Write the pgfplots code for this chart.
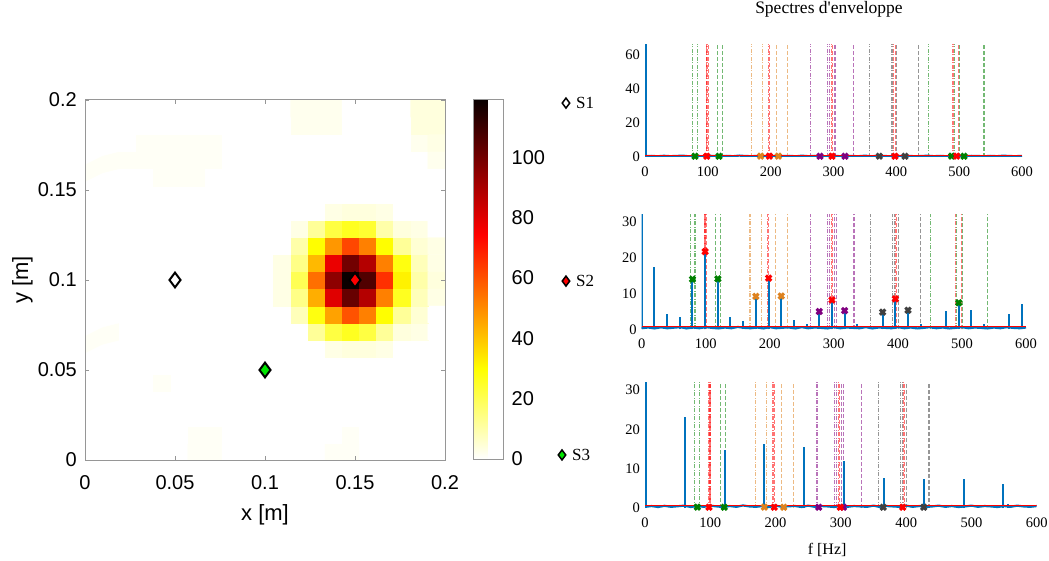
\documentclass[border=0pt]{standalone}
\usepackage{pgfplots}
\pgfplotsset{compat=1.18}
\usepackage{pgfplotstable}
\usepackage{fontspec}
\setmainfont{Liberation Sans}
\newfontfamily\timesf{Liberation Serif}

\definecolor{mblue}{RGB}{0,114,189}
\definecolor{mgreen}{RGB}{0,128,0}
\definecolor{morange}{RGB}{222,130,30}
\definecolor{mpurple}{RGB}{128,0,128}
\definecolor{mgray}{RGB}{64,64,64}
\definecolor{axgray}{RGB}{150,150,150}
\definecolor{sgreen}{RGB}{0,230,0}

% 21x21 map, rows from bottom (y=0) to top, 21 values each (x from 0 to 0.2)
\pgfplotstableread[row sep=\\]{
z\\
0\\0\\0\\0\\0\\0\\1\\1\\0\\0\\0\\0\\0\\0\\1\\1\\0\\0\\0\\0\\0\\
0\\0\\0\\0\\0\\0\\1\\1\\0\\0\\0\\0\\0\\0\\0\\1\\0\\0\\0\\0\\0\\
0\\0\\0\\0\\0\\0\\0\\0\\0\\0\\0\\0\\0\\0\\0\\0\\0\\0\\0\\0\\0\\
0\\0\\0\\0\\0\\0\\0\\0\\0\\0\\0\\0\\0\\0\\0\\0\\0\\0\\0\\0\\0\\
0\\0\\0\\0\\1\\0\\0\\0\\0\\0\\0\\0\\0\\0\\0\\0\\0\\0\\0\\0\\0\\
0\\0\\0\\0\\0\\0\\0\\0\\0\\0\\0\\0\\0\\0\\0\\0\\0\\0\\0\\0\\0\\
0\\0\\0\\0\\0\\0\\0\\0\\0\\0\\0\\0\\0\\0\\3\\4\\4\\3\\0\\0\\0\\
1\\1\\0\\0\\0\\0\\0\\0\\0\\0\\0\\0\\0\\12\\22\\26\\22\\12\\4\\3\\0\\
0\\0\\0\\0\\0\\0\\0\\0\\0\\0\\0\\0\\8\\28\\46\\60\\52\\30\\12\\5\\0\\
0\\0\\0\\0\\0\\0\\0\\0\\0\\0\\0\\3\\14\\44\\80\\102\\88\\52\\26\\8\\3\\
0\\0\\0\\0\\0\\0\\0\\0\\0\\0\\0\\3\\20\\55\\95\\119\\106\\66\\32\\10\\4\\
0\\0\\0\\0\\0\\0\\0\\0\\0\\0\\0\\3\\14\\42\\78\\100\\88\\52\\28\\8\\3\\
0\\0\\0\\0\\0\\0\\0\\0\\0\\0\\0\\0\\10\\30\\48\\62\\52\\30\\12\\5\\3\\
0\\0\\0\\0\\0\\0\\0\\0\\0\\0\\0\\0\\3\\12\\22\\26\\24\\10\\4\\3\\0\\
0\\0\\0\\0\\0\\0\\0\\0\\0\\0\\0\\0\\0\\0\\3\\4\\4\\3\\0\\0\\0\\
0\\0\\0\\0\\0\\0\\0\\0\\0\\0\\0\\0\\0\\0\\0\\0\\0\\0\\0\\0\\0\\
0\\0\\0\\0\\1\\1\\1\\0\\0\\0\\0\\0\\0\\0\\0\\0\\0\\0\\0\\0\\0\\
1\\1\\1\\1\\1\\1\\1\\1\\0\\0\\0\\0\\0\\0\\0\\0\\0\\0\\0\\0\\2\\
0\\0\\0\\1\\1\\1\\1\\1\\0\\0\\0\\0\\0\\0\\0\\0\\0\\0\\0\\2\\3\\
0\\0\\0\\0\\0\\0\\0\\0\\0\\0\\0\\0\\2\\2\\2\\0\\0\\0\\0\\4\\4\\
0\\0\\0\\0\\0\\0\\0\\0\\0\\0\\0\\0\\2\\2\\2\\0\\0\\0\\0\\4\\4\\
}\heat

\pgfplotstableread[row sep=\\]{
f a\\
0 0.3\\10 0.5\\20 0.25\\30 0.55\\40 0.3\\50 0.45\\60 0.6\\70 0.25\\80 0.5\\90 0.3\\
100 0.6\\110 0.4\\120 0.25\\130 0.5\\140 0.3\\150 0.65\\160 0.4\\170 0.3\\180 0.5\\190 0.25\\
200 0.6\\210 0.3\\220 0.45\\230 0.5\\240 0.25\\250 0.6\\260 0.3\\270 0.5\\280 0.4\\290 0.25\\
300 0.6\\310 0.3\\320 0.5\\330 0.4\\340 0.3\\350 0.6\\360 0.25\\370 0.5\\380 0.4\\390 0.3\\
400 0.6\\410 0.3\\420 0.5\\430 0.25\\440 0.4\\450 0.6\\460 0.3\\470 0.5\\480 0.25\\490 0.4\\
500 0.6\\510 0.3\\520 0.5\\530 0.4\\540 0.25\\550 0.5\\560 0.3\\570 0.6\\580 0.4\\590 0.3\\
600 0.5\\
}\noise

\pgfplotsset{
  vl/.style={ycomb, mark=none, line width=1.1pt, opacity=0.55, forget plot},
  dd/.style={dash pattern=on 4pt off 1.5pt on 1pt off 1.5pt},
  ds/.style={dash pattern=on 4pt off 2pt},
  xm/.style={only marks, mark=x, mark size=3.8pt, mark options={line width=3pt}},
  rightax/.style={anchor=south west, scale only axis, xmin=0, xmax=600, ymin=0,
    xtick={0,100,200,300,400,500,600},
    axis line style={draw=none}, tick style={draw=none}, major tick length=0pt,
    ticklabel style={font=\timesf\fontsize{14.5}{14.5}\selectfont},
    xticklabel style={anchor=base, inner sep=0pt, yshift=-19.5pt},
    yticklabel style={anchor=east, inner sep=0pt, xshift=-5pt},
    clip mode=individual,
    /pgf/number format/assume math mode=true},
}

\newcommand{\vlinesMain}{%
  \addplot[vl, mgreen, dd] coordinates {(75.5,200) (83.2,200)};
  \addplot[vl, red, dd] coordinates {(97.6,200) (99.6,200)};
  \addplot[vl, red, ds] coordinates {(98.4,200) (100.4,200)};
  \addplot[vl, mgreen, ds] coordinates {(115,200) (122.8,200)};
  \addplot[vl, morange, dd] coordinates {(169,200) (186.5,200)};
  \addplot[vl, red, dd] coordinates {(196,200)};
  \addplot[vl, red, ds] coordinates {(198,200)};
  \addplot[vl, morange, ds] coordinates {(209.3,200) (227,200)};
  \addplot[vl, mpurple, dd] coordinates {(263.5,200) (290.7,200) (293.4,200)};
  \addplot[vl, red, dd] coordinates {(296.2,200)};
  \addplot[vl, red, ds] coordinates {(298.5,200)};
  \addplot[vl, mpurple, ds] coordinates {(301,200) (303.5,200) (331.5,200)};
  \addplot[vl, mgray, dd] coordinates {(357.5,200) (391.9,200) (394,200)};
  \addplot[vl, red, dd] coordinates {(396,200)};
  \addplot[vl, red, ds] coordinates {(398.1,200)};
  \addplot[vl, mgray, ds] coordinates {(400.7,200) (435,200)};
}
\newcommand{\vlinesFive}{%
  \addplot[vl, mgreen, dd] coordinates {(451.5,200) (492,200)};
  \addplot[vl, red, dd] coordinates {(490.2,200)};
  \addplot[vl, red, ds] coordinates {(498.6,200)};
  \addplot[vl, mgreen, ds] coordinates {(500.6,200) (539.5,200)};
}

\begin{document}
\begin{tikzpicture}
\path[use as bounding box] (0pt,0pt) rectangle (1049pt,560pt);

% ---------------- heat map ----------------
\begin{axis}[
  at={(85pt,100pt)}, anchor=south west, scale only axis,
  width=360pt, height=360pt,
  xmin=0, xmax=0.2, ymin=0, ymax=0.2,
  xtick={0,0.05,0.1,0.15,0.2}, xticklabels={0,0.05,0.1,0.15,0.2},
  ytick={0,0.05,0.1,0.15,0.2}, yticklabels={0,0.05,0.1,0.15,0.2},
  tick align=inside, major tick length=4pt,
  tick style={axgray, line width=0.8pt},
  axis line style={axgray, line width=1pt},
  axis on top, clip=false,
  point meta min=0, point meta max=119,
  colormap={hotr}{rgb255(0cm)=(255,255,255); rgb255(2cm)=(255,255,0); rgb255(5cm)=(255,0,0); rgb255(8cm)=(10,0,0)},
  ticklabel style={font=\fontsize{20}{20}\selectfont},
  xticklabel style={anchor=base, inner sep=0pt, yshift=-29.3pt},
  yticklabel style={anchor=east, inner sep=0pt, xshift=-8pt},
  xlabel={x [m]}, ylabel={y [m]},
  label style={font=\fontsize{22}{22}\selectfont},
  xlabel style={at={(axis description cs:0.5,-0.153)}, anchor=center},
  ylabel style={at={(axis description cs:-0.174,0.5)}, anchor=center},
  /pgf/number format/assume math mode=true,
  colorbar,
  colorbar style={
    at={(parent axis.north east)}, anchor=north west, xshift=20pt,
    scale only axis, width=30pt, height=359pt,
    ytick={0,20,40,60,80,100},
    yticklabel style={font=\fontsize{20}{20}\selectfont, anchor=west, inner sep=0pt, xshift=8pt},
    axis line style={axgray, line width=1pt},
    tick style={draw=none},
    /pgf/number format/assume math mode=true,
  },
]
\addplot[matrix plot*, mesh/cols=21, mesh/rows=21, point meta=explicit]
  table[x index=0, y index=0, x expr={(mod(\coordindex,21)+0.5)*0.2/21}, y expr={(floor(\coordindex/21)+0.5)*0.2/21}, meta index=0] {\heat};

\addplot[only marks, mark=diamond*, mark size=7.4pt, mark options={line width=2pt, draw=black, fill=white}] coordinates {(0.05,0.1)};
\addplot[only marks, mark=diamond*, mark size=7.4pt, mark options={line width=2pt, draw=black, fill=red}] coordinates {(0.15,0.1)};
\addplot[only marks, mark=diamond*, mark size=7.4pt, mark options={line width=2pt, draw=black, fill=sgreen}] coordinates {(0.1,0.05)};

\addplot[only marks, mark=diamond*, mark size=5pt, mark options={line width=1.5pt, draw=black, fill=white}] coordinates {(0.2672,0.1983)};
\addplot[only marks, mark=diamond*, mark size=5pt, mark options={line width=1.5pt, draw=black, fill=red}] coordinates {(0.2672,0.0994)};
\addplot[only marks, mark=diamond*, mark size=5pt, mark options={line width=1.5pt, draw=black, fill=sgreen}] coordinates {(0.2650,0.0028)};
\node[anchor=west, inner sep=0pt, font=\timesf\fontsize{17}{17}\selectfont] at (axis cs:0.2728,0.1983) {S1};
\node[anchor=west, inner sep=0pt, font=\timesf\fontsize{17}{17}\selectfont] at (axis cs:0.2728,0.0994) {S2};
\node[anchor=west, inner sep=0pt, font=\timesf\fontsize{17}{17}\selectfont] at (axis cs:0.2705,0.0028) {S3};
\end{axis}

% ---------------- spectrum 1 ----------------
\begin{axis}[rightax, at={(645pt,403.3pt)}, width=377pt, height=111.9pt,
  ymax=66, ytick={0,20,40,60},
  title={Spectres d'enveloppe},
  title style={font=\timesf\fontsize{17.5}{17.5}\selectfont, at={(axis description cs:0.5,1)}, anchor=center, yshift=30pt, xshift=-4.5pt},
]
\vlinesMain
\vlinesFive
\addplot[mblue, line width=2.2pt, mark=none] table[x=f, y=a] {\noise};
\addplot[ycomb, mblue, line width=2.5pt, mark=none] coordinates {(0.8,200) (10,0.5)};
\addplot[red, line width=1.2pt, mark=none] coordinates {(0,0.8) (600,0.8)};
\addplot[xm, mgreen] coordinates {(79.6,0.3) (117.8,0.3) (488,0.3) (507.7,0.3)};
\addplot[xm, morange] coordinates {(184,0.3) (212.2,0.3)};
\addplot[xm, mpurple] coordinates {(278.5,0.3) (318.3,0.3)};
\addplot[xm, mgray] coordinates {(372.9,0.3) (413.8,0.3)};
\addplot[xm, red] coordinates {(98.2,0.3) (197.9,0.3) (297.6,0.3) (397.9,0.3) (496,0.3)};
\end{axis}

% ---------------- spectrum 2 ----------------
\begin{axis}[rightax, at={(641.7pt,230.7pt)}, width=384.3pt, height=114.5pt,
  ymax=32, ytick={0,10,20,30},
]
\vlinesMain
\vlinesFive
\addplot[mblue, line width=2.2pt, mark=none] table[x=f, y=a] {\noise};
\addplot[ycomb, mblue, line width=2pt, mark=none] coordinates {
  (0.8,200) (19.8,17.5) (39.6,4.2) (59.4,3.4) (79.2,14.0) (99,21.7) (118.8,14.1)
  (138.6,3.5) (158.4,2.4) (178.2,9.2) (198,14.3) (217.8,9.3) (237.6,2.5)
  (257.4,1.4) (277.2,5.0) (297,8.2) (316.8,5.2) (336.6,1.5) (356.4,0.9)
  (376.2,4.8) (396,8.5) (415.8,5.3) (435.6,1.5) (455.4,0.9) (475.2,5.0)
  (495,7.4) (514.8,5.5) (534.6,1.4) (554.4,0.7) (574.2,4.4) (594,7.0)};
\addplot[red, line width=1.2pt, mark=none] coordinates {(0,0.7) (600,0.7)};
\addplot[xm, mgreen] coordinates {(79.2,14.0) (118.8,14.1) (495,7.4)};
\addplot[xm, morange] coordinates {(178.2,9.2) (217.8,9.3)};
\addplot[xm, mpurple] coordinates {(277.2,5.0) (316.8,5.2)};
\addplot[xm, mgray] coordinates {(376.2,4.8) (415.8,5.3)};
\addplot[xm, red] coordinates {(99,21.7) (198,14.3) (297,8.2) (396,8.5)};
\end{axis}

% ---------------- spectrum 3 ----------------
\begin{axis}[rightax, at={(645pt,52pt)}, width=391.7pt, height=125.9pt,
  ymax=32, ytick={0,10,20,30},
  xlabel={f [Hz]},
  xlabel style={font=\timesf\fontsize{16}{16}\selectfont, at={(axis description cs:0.465,0)}, anchor=center, yshift=-42pt},
]
\vlinesMain
\addplot[mblue, line width=2.2pt, mark=none] table[x=f, y=a] {\noise};
\addplot[ycomb, mblue, line width=2pt, mark=none] coordinates {
  (0.8,200) (61,23.2) (122,14.8) (183,16.3) (244,15.4) (305,12.0)
  (366,7.7) (427,7.4) (488,7.3) (549,6.0) (556,1.0)};
\addplot[red, line width=1.2pt, mark=none] coordinates {(0,0.6) (600,0.6)};
\addplot[xm, mgreen] coordinates {(80.2,0.2) (121.5,0.2)};
\addplot[xm, morange] coordinates {(182.8,0.2) (212.4,0.2)};
\addplot[xm, mpurple] coordinates {(266,0.2) (304,0.2)};
\addplot[xm, mgray] coordinates {(365,0.2) (427,0.2)};
\addplot[xm, red] coordinates {(98,0.2) (198,0.2) (299,0.2) (394.7,0.2)};
\end{axis}
\end{tikzpicture}
\end{document}
